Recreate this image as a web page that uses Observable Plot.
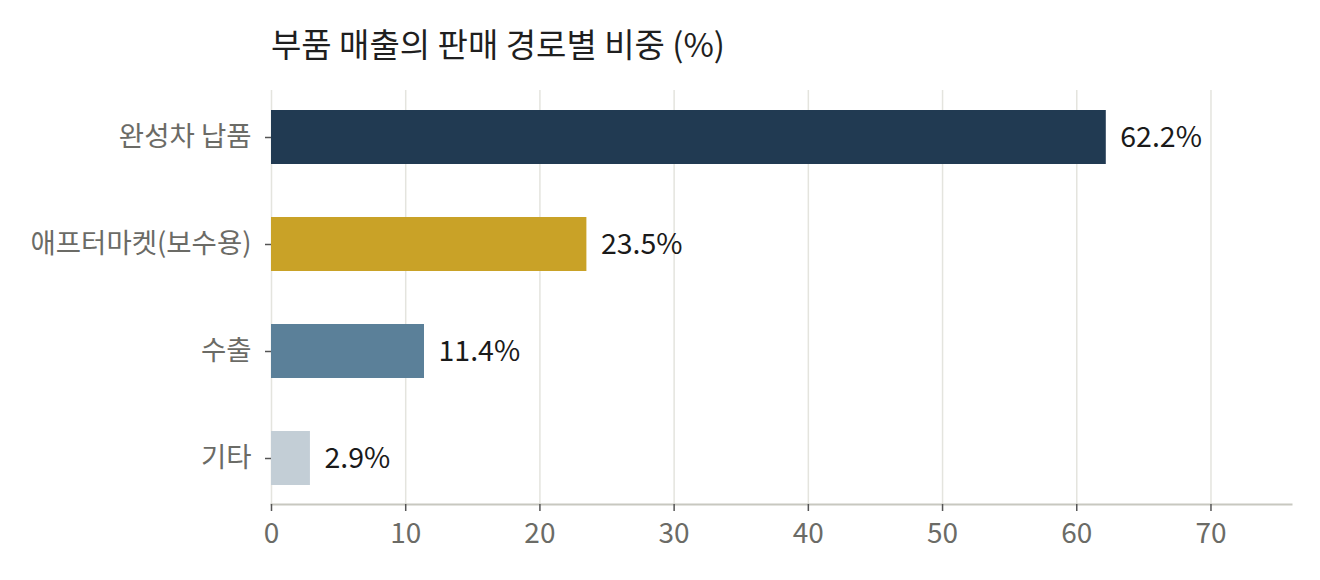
<!DOCTYPE html>
<html>
<head>
<meta charset="utf-8">
<script src="https://cdn.jsdelivr.net/npm/d3@7"></script>
<script src="https://cdn.jsdelivr.net/npm/@observablehq/plot@0.6"></script>
<style>
  html, body { margin: 0; padding: 0; background: #fff; }
  body { width: 1320px; height: 580px; overflow: hidden; font-family: "Noto Sans CJK KR", "Noto Sans", sans-serif; }
  #title { height: 80px; box-sizing: border-box; padding-left: 271px; padding-top: 19px; font-size: 33px; line-height: 48px; color: #1f1f1f; white-space: nowrap; }
  #chart svg { display: block; }
</style>
</head>
<body>
<div id="title">부품 매출의 판매 경로별 비중 (%)</div>
<div id="chart"></div>
<script>
const categories = ["완성차 납품", "애프터마켓(보수용)", "수출", "기타"];
const values = [62.2, 23.5, 11.4, 2.9];
const colors = ["#213a52", "#c9a227", "#5b8099", "#c3ced6"];
const xTicks = [0, 10, 20, 30, 40, 50, 60, 70];

const data = categories.map((c, i) => ({category: c, value: values[i], color: colors[i]}));

const chart = Plot.plot({
  width: 1320,
  height: 500,
  marginTop: 10,
  marginBottom: 76,
  marginLeft: 271,
  marginRight: 29,
  style: {fontFamily: "'Noto Sans CJK KR', 'Noto Sans', sans-serif", background: "#fff"},
  x: {domain: [0, 76]},
  y: {domain: categories, paddingInner: 0.5, paddingOuter: 0.175},
  marks: [
    Plot.gridX(xTicks, {stroke: "#e4e4de", strokeOpacity: 1, strokeWidth: 1.5}),
    Plot.frame({anchor: "bottom", stroke: "#c8c8c0", strokeWidth: 2}),
    Plot.barX(data, {y: "category", x: "value", fill: "color"}),
    Plot.text(data, {y: "category", x: "value", text: d => `${d.value}%`, dx: 14, textAnchor: "start", fontSize: 28.5, fill: "#1a1a1a"}),
    Plot.axisX(xTicks, {tickSize: 7, tickPadding: 12, fontSize: 28, fill: "#6b6b66", stroke: "#555", strokeWidth: 1.5, label: null}),
    Plot.axisY({tickSize: 6, tickPadding: 14, fontSize: 27.5, fill: "#6b6b66", stroke: "#555", strokeWidth: 1.5, label: null})
  ]
});
document.getElementById("chart").appendChild(chart);
</script>
</body>
</html>
